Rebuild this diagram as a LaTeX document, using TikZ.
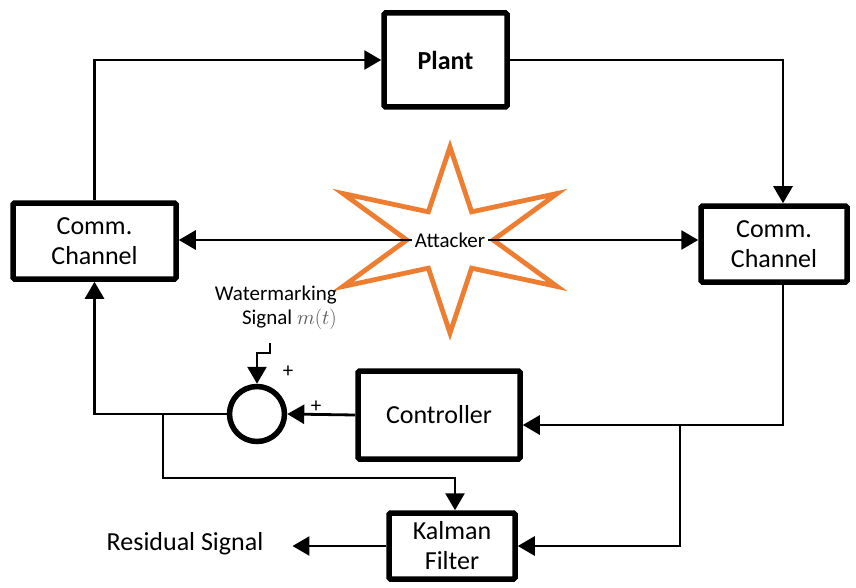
\documentclass[tikz,border=0pt]{standalone}
\usepackage{fontspec}
\setmainfont{Carlito}
\usetikzlibrary{arrows.meta,positioning,calc}
\definecolor{attackorange}{RGB}{237,125,49}
\tikzset{
  blockbox/.style={draw=black, line width=5.5pt, rounded corners=1.5pt, align=center, inner sep=2pt,
    font=\fontsize{26}{30}\selectfont},
  sumnode/.style={circle, draw=black, line width=5.5pt, minimum size=55pt, inner sep=0pt},
  sig/.style={-{Triangle[length=17pt,width=19pt]}, line width=2.8pt},
  labeltext/.style={font=\fontsize{21}{24}\selectfont, inner sep=1pt},
  bigtext/.style={font=\fontsize{26}{30}\selectfont, inner sep=1pt},
  signtext/.style={font=\fontsize{21}{21}\selectfont, inner sep=0pt},
  starline/.style={draw=attackorange, line width=4.8pt, line join=miter}
}

\begin{document}
\begin{tikzpicture}[x=1pt, y=-1pt]
  \useasboundingbox (0,0) rectangle (856,588);

  % blocks
  \node[blockbox, minimum width=123pt, minimum height=94pt, font=\fontsize{26}{30}\selectfont\bfseries] (plant) at (445.5,60) {Plant};
  \node[blockbox, minimum width=163pt, minimum height=76pt] (lcomm) at (94.5,241) {Comm.\\Channel};
  \node[blockbox, minimum width=146pt, minimum height=76pt] (rcomm) at (774,244) {Comm.\\Channel};
  \node[blockbox, minimum width=162pt, minimum height=88pt] (ctrl) at (439,415) {Controller};
  \node[blockbox, minimum width=126pt, minimum height=66pt] (kalman) at (452,546) {Kalman\\Filter};
  \node[sumnode] (sum) at (257,414) {};

  % attacker
  \draw[starline] plot[samples at={0,30,...,330}]
    ({450+1.33*(62.75+30.25*cos(6*\x))*cos(\x+90)}, {240-(62.75+30.25*cos(6*\x))*sin(\x+90)}) -- cycle;
  \node[labeltext, inner sep=3pt] (attacker) at (450,240) {Attacker};

  % texts
  \node[labeltext, align=right, anchor=east] (wmtext) at (338,308) {Watermarking\\Signal \textcolor{black!65}{$m(t)$}};
  \node[bigtext] (resid) at (185,544) {Residual Signal};
  \node[signtext] (plustop) at (288,372) {+};
  \node[signtext] (plusright) at (316,407) {+};

  \coordinate (wmin) at (270,343);
  \coordinate (ctrlin) at ([yshift=-10pt]ctrl.east);
  \coordinate (split) at (680,425);
  \coordinate (tap) at (163,415);
  \coordinate (residout) at ([xshift=28pt]resid.east);

  % connectors
  \draw[sig] (lcomm.north) |- (plant.west);
  \draw[sig] (plant.east) -| ([xshift=9pt]rcomm.north);
  \draw[sig] (attacker.west) -- (attacker.west -| lcomm.east);
  \draw[sig] (attacker.east) -- (attacker.east -| rcomm.west);
  \draw[sig] ([xshift=9pt]rcomm.south) |- (ctrlin);
  \draw[sig] (split) |- (kalman.east);
  \draw[sig] (ctrl.west) -- (sum.east);
  \draw[sig] (wmin) -- ++(0,10) -| (sum.north);
  \draw[sig] (sum.west) -| (lcomm.south);
  \draw[sig] (tap) -- ++(0,63) -| ([xshift=3pt]kalman.north);
  \draw[sig] (kalman.west) -- (kalman.west -| residout);
\end{tikzpicture}
\end{document}
